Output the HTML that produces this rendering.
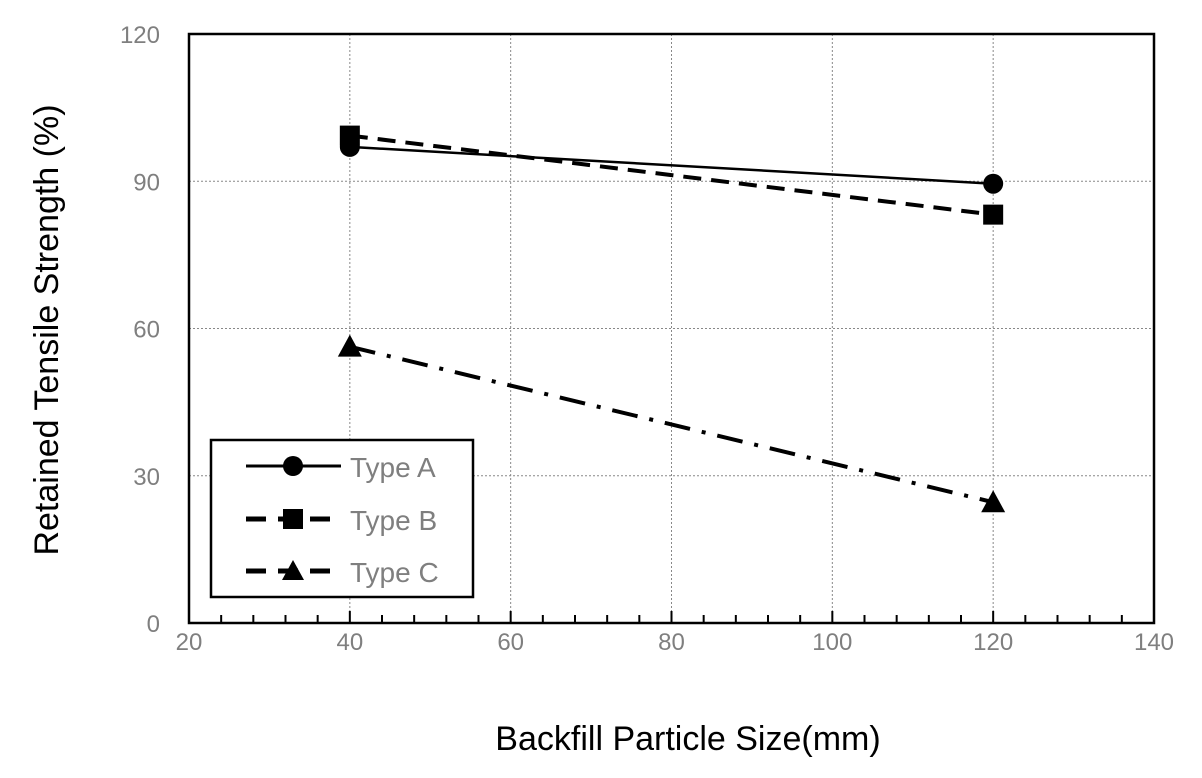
<!DOCTYPE html>
<html><head><meta charset="utf-8"><style>
body{margin:0;background:#fff}
svg text{font-family:"Liberation Sans",sans-serif}
</style></head><body>
<svg id="chart" width="1202" height="773" xmlns="http://www.w3.org/2000/svg">
<g id="grid"></g>
<g id="axes"></g>
<g id="series"></g>
<text x="688" y="750" text-anchor="middle" font-size="34" fill="#000">Backfill Particle Size(mm)</text>
<text transform="translate(58,330) rotate(-90)" text-anchor="middle" font-size="34" fill="#000">Retained Tensile Strength (%)</text>
<g>
<rect x="211" y="440" width="262" height="157" fill="#fff" stroke="#000" stroke-width="2.5"/>
<g>
<line x1="246" y1="466" x2="341" y2="466" stroke="#000" stroke-width="3"/>
<circle cx="293" cy="466" r="10" fill="#000"/>
<text x="350" y="477" font-size="28" fill="#7f7f7f">Type A</text></g>
<g>
<line x1="246" y1="519" x2="341" y2="519" stroke="#000" stroke-width="5" stroke-dasharray="20,12"/>
<rect x="283" y="509" width="20" height="20" fill="#000"/>
<text x="350" y="530" font-size="28" fill="#7f7f7f">Type B</text></g>
<g>
<line x1="246" y1="571" x2="330" y2="571" stroke="#000" stroke-width="5" stroke-dasharray="20,12"/>
<polygon points="293,560 304,580 282,580" fill="#000"/>
<text x="350" y="582" font-size="28" fill="#7f7f7f">Type C</text></g>
</g>
</svg>
<script>
const xTicks=[20,40,60,80,100,120,140];
const yTicks=[0,30,60,90,120];
const xVals=[40,120];
const typeA=[97,89.5];
const typeB=[99.3,83.2];
const typeC=[56.3,24.6];
const NS="http://www.w3.org/2000/svg";
const X0=189,X1=1154,Y0=623,Y1=34;
const sx=v=>X0+(v-20)/(140-20)*(X1-X0);
const sy=v=>Y0-(v-0)/(120-0)*(Y0-Y1);
function mk(tag,attrs,parent){const e=document.createElementNS(NS,tag);for(const k in attrs)e.setAttribute(k,attrs[k]);parent.appendChild(e);return e;}
const grid=document.getElementById('grid'),axes=document.getElementById('axes'),series=document.getElementById('series');
xTicks.forEach(t=>{
 if(t>20&&t<140){const l=mk('line',{x1:sx(t),x2:sx(t),y1:Y1,y2:Y0,stroke:'#888','stroke-width':1,'stroke-dasharray':'2,2'},grid);
 
 }
 const tx=mk('text',{x:sx(t),y:650,'text-anchor':'middle','font-size':24,fill:'#7f7f7f'},axes);tx.textContent=t;
 
 
});
yTicks.forEach(t=>{
 if(t>0&&t<120){const l=mk('line',{x1:X0,x2:X1,y1:sy(t),y2:sy(t),stroke:'#888','stroke-width':1,'stroke-dasharray':'2,2'},grid);
 
 }
 const tx=mk('text',{x:160,y:sy(t)+9,'text-anchor':'end','font-size':24,fill:'#7f7f7f'},axes);tx.textContent=t;
 
 
});
for(let v=20;v<=140;v+=4){const big=(v%20===0);
 const l=mk('line',{x1:sx(v),x2:sx(v),y1:Y0,y2:Y0-(big?12:8),stroke:'#000','stroke-width':2},axes);
 
 }
const fr=mk('rect',{x:X0,y:Y1,width:X1-X0,height:Y0-Y1,fill:'none',stroke:'#000','stroke-width':2.5},axes);


function draw(vals,dash,marker,name){
 const g=mk('g',{},series);
 
 
 mk('polyline',{points:xVals.map((x,i)=>sx(x)+','+sy(vals[i])).join(' '),fill:'none',stroke:'#000','stroke-width':dash?4:2.5,'stroke-dasharray':dash||'none'},g);
 xVals.forEach((x,i)=>{const cx=sx(x),cy=sy(vals[i]);let m;
  if(marker==='c')m=mk('circle',{cx,cy,r:10,fill:'#000'},g);
  else if(marker==='s')m=mk('rect',{x:cx-10,y:cy-10,width:20,height:20,fill:'#000'},g);
  else m=mk('polygon',{points:`${cx},${cy-12} ${cx+12},${cy+10} ${cx-12},${cy+10}`,fill:'#000'},g);
  
  });
}
draw(typeA,null,'c','series-type-a');
draw(typeB,'18,10','s','series-type-b');
draw(typeC,'26,12,4,12','t','series-type-c');
</script>
</body></html>
